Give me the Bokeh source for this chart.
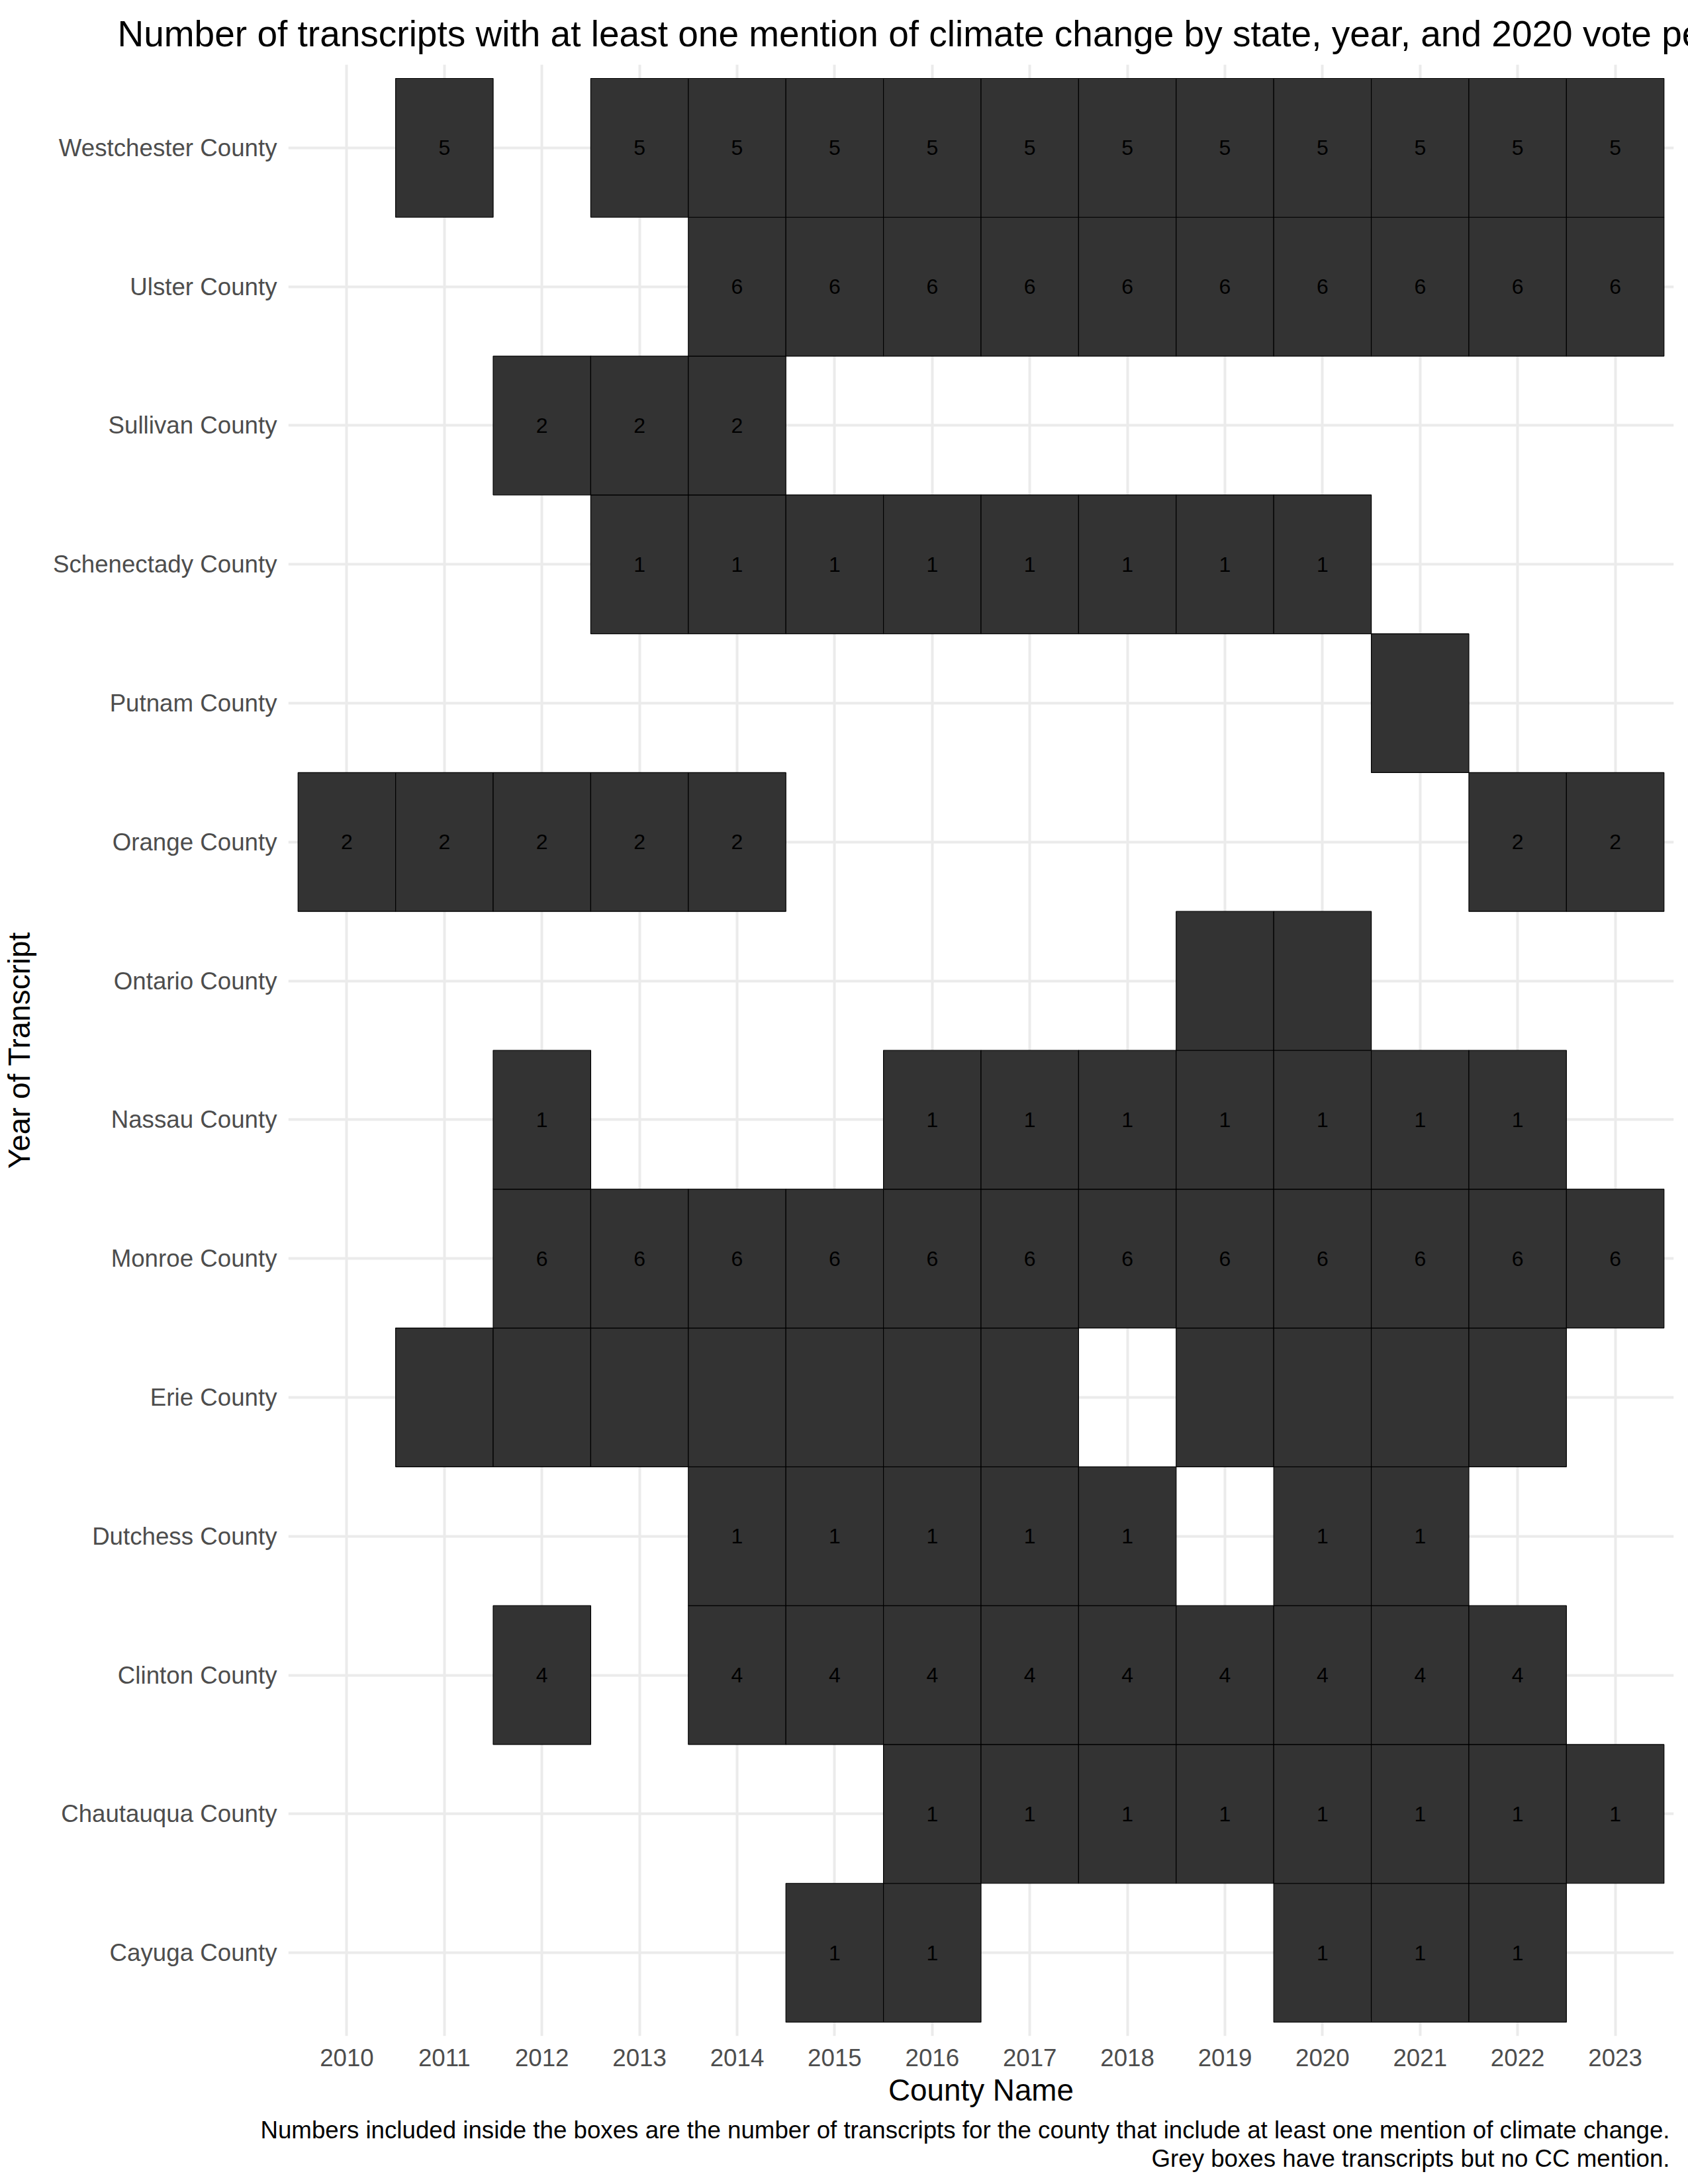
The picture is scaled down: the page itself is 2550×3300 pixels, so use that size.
from bokeh.plotting import figure
from bokeh.models import Range1d, FixedTicker, Title, ColumnDataSource
from bokeh.embed import file_html
from bokeh.resources import INLINE
from bokeh.core.properties import value

# ---- data ----
counties = ["Cayuga County", "Chautauqua County", "Clinton County", "Dutchess County",
            "Erie County", "Monroe County", "Nassau County", "Ontario County",
            "Orange County", "Putnam County", "Schenectady County", "Sullivan County",
            "Ulster County", "Westchester County"]
years = [2010, 2011, 2012, 2013, 2014, 2015, 2016, 2017, 2018, 2019, 2020, 2021, 2022, 2023]
county_years = [
    [2015, 2016, 2020, 2021, 2022],                                            # Cayuga
    [2016, 2017, 2018, 2019, 2020, 2021, 2022, 2023],                          # Chautauqua
    [2012, 2014, 2015, 2016, 2017, 2018, 2019, 2020, 2021, 2022],              # Clinton
    [2014, 2015, 2016, 2017, 2018, 2020, 2021],                                # Dutchess
    [2011, 2012, 2013, 2014, 2015, 2016, 2017, 2019, 2020, 2021, 2022],        # Erie
    [2012, 2013, 2014, 2015, 2016, 2017, 2018, 2019, 2020, 2021, 2022, 2023],  # Monroe
    [2012, 2016, 2017, 2018, 2019, 2020, 2021, 2022],                          # Nassau
    [2019, 2020],                                                              # Ontario
    [2010, 2011, 2012, 2013, 2014, 2022, 2023],                                # Orange
    [2021],                                                                    # Putnam
    [2013, 2014, 2015, 2016, 2017, 2018, 2019, 2020],                          # Schenectady
    [2012, 2013, 2014],                                                        # Sullivan
    [2014, 2015, 2016, 2017, 2018, 2019, 2020, 2021, 2022, 2023],              # Ulster
    [2011, 2013, 2014, 2015, 2016, 2017, 2018, 2019, 2020, 2021, 2022, 2023],  # Westchester
]
cc_counts = [1, 1, 4, 1, None, 6, 1, None, 2, None, 1, 2, 6, 5]

title_text = ("Number of transcripts with at least one mention of climate change "
              "by state, year, and 2020 vote percentage")
caption_1 = ("Numbers included inside the boxes are the number of transcripts for the "
             "county that include at least one mention of climate change.")
caption_2 = "Grey boxes have transcripts but no CC mention."

# ---- build table ----
xs, ys, labs = [], [], []
for i, (yrs, cnt) in enumerate(zip(county_years, cc_counts)):
    for yr in yrs:
        xs.append(yr)
        ys.append(i)
        labs.append("" if cnt is None else str(cnt))
src = ColumnDataSource(dict(x=xs, y=ys, lab=labs))

FONT = "Liberation Sans"
W, H = 2550, 3300
L, R, T, B = 431, 2528, 97, 3076
X0, X1 = min(years) - 0.6, max(years) + 0.6
Y0, Y1 = -0.6, len(counties) - 1 + 0.6

p = figure(width=W, height=H, x_range=Range1d(X0, X1), y_range=Range1d(Y0, Y1),
           output_backend="svg", toolbar_location=None,
           min_border_left=L, min_border_right=W - R, min_border_top=T,
           min_border_bottom=H - B)
p.background_fill_color = "white"
p.border_fill_color = "white"
p.outline_line_color = None

p.rect(x="x", y="y", width=1, height=1, source=src, fill_color="#333333",
       line_color="black", line_width=1.2)
p.text(x="x", y="y", text="lab", source=src, text_align="center",
       text_baseline="middle", text_font=value(FONT), text_font_size="32px",
       text_color="black")

p.xaxis.ticker = FixedTicker(ticks=years)
p.xaxis.major_label_overrides = {yr: str(yr) for yr in years}
p.yaxis.ticker = FixedTicker(ticks=list(range(len(counties))))
p.yaxis.major_label_overrides = {i: c for i, c in enumerate(counties)}

for ax in (p.xaxis, p.yaxis):
    ax.axis_line_color = None
    ax.major_tick_line_color = None
    ax.minor_tick_line_color = None
    ax.major_tick_out = 0
    ax.major_tick_in = 0
    ax.major_label_text_font = FONT
    ax.major_label_text_font_size = "36.7px"
    ax.major_label_text_color = "#4D4D4D"
    ax.axis_label_text_font = FONT
    ax.axis_label_text_font_size = "45.8px"
    ax.axis_label_text_font_style = "normal"
    ax.axis_label_text_color = "black"

p.xaxis.axis_label = "County Name"
p.yaxis.axis_label = "Year of Transcript"
p.xaxis.major_label_standoff = 19
p.yaxis.major_label_standoff = 17
p.xaxis.axis_label_standoff = 8
p.yaxis.axis_label_standoff = 22

p.grid.grid_line_color = "#EBEBEB"
p.grid.grid_line_width = 4
p.grid.minor_grid_line_color = None

p.title = Title(text=title_text, align="left", offset=173 - L, standoff=31,
                text_font=FONT, text_font_size="55px", text_font_style="normal",
                text_color="black")

p.add_layout(Title(text=caption_1, align="right", offset=6, standoff=18,
                   text_font=FONT, text_font_size="36.7px", text_font_style="normal",
                   text_color="black"), "below")
p.add_layout(Title(text=caption_2, align="right", offset=6, standoff=-18,
                   text_font=FONT, text_font_size="36.7px", text_font_style="normal",
                   text_color="black"), "below")

open("out.html", "w").write(file_html(p, INLINE))
